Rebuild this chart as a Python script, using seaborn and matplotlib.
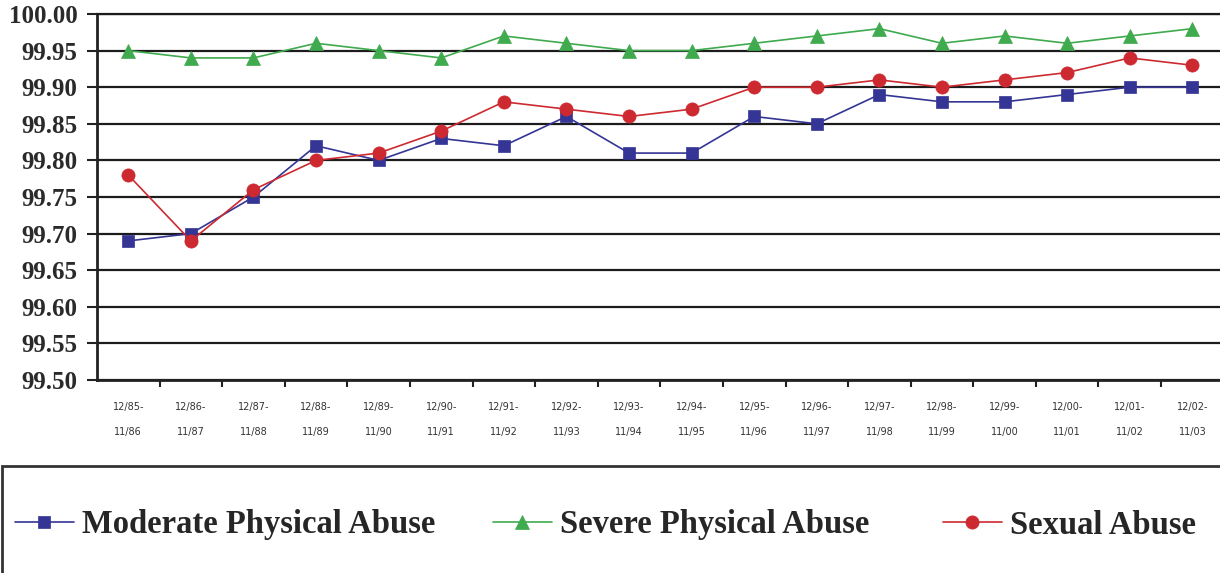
import numpy as np
import pandas as pd
import matplotlib
matplotlib.use("Agg")
import matplotlib.pyplot as plt
from matplotlib.patches import Rectangle
from matplotlib.ticker import FixedLocator
import seaborn as sns

# Reporting periods (December to November)
periods = ["12/85-\n11/86", "12/86-\n11/87", "12/87-\n11/88", "12/88-\n11/89",
           "12/89-\n11/90", "12/90-\n11/91", "12/91-\n11/92", "12/92-\n11/93",
           "12/93-\n11/94", "12/94-\n11/95", "12/95-\n11/96", "12/96-\n11/97",
           "12/97-\n11/98", "12/98-\n11/99", "12/99-\n11/00", "12/00-\n11/01",
           "12/01-\n11/02", "12/02-\n11/03"]

moderate_physical = [99.69, 99.70, 99.75, 99.82, 99.80, 99.83, 99.82, 99.86, 99.81,
                     99.81, 99.86, 99.85, 99.89, 99.88, 99.88, 99.89, 99.90, 99.90]
severe_physical = [99.95, 99.94, 99.94, 99.96, 99.95, 99.94, 99.97, 99.96, 99.95,
                   99.95, 99.96, 99.97, 99.98, 99.96, 99.97, 99.96, 99.97, 99.98]
sexual_abuse = [99.78, 99.69, 99.76, 99.80, 99.81, 99.84, 99.88, 99.87, 99.86,
                99.87, 99.90, 99.90, 99.91, 99.90, 99.91, 99.92, 99.94, 99.93]

y_ticks = [99.50, 99.55, 99.60, 99.65, 99.70, 99.75, 99.80, 99.85, 99.90, 99.95, 100.00]

series = [
    ("Moderate Physical Abuse", moderate_physical, "#343594", "s", 8.5),
    ("Severe Physical Abuse", severe_physical, "#3faa4e", "^", 10),
    ("Sexual Abuse", sexual_abuse, "#cc2a30", "o", 9.5),
]

sns.set_theme(style="white")
plt.rcParams["font.family"] = ["DejaVu Sans"]

W, H = 1220, 573
fig = plt.figure(figsize=(W / 100, H / 100), dpi=100)
ax = fig.add_axes([97 / W, 1 - 380 / H, 1.003 - 97 / W, (380 - 14) / H])

x = np.arange(len(periods))
for name, vals, color, marker, ms in series:
    df = pd.DataFrame({"period": x, "value": vals})
    sns.lineplot(data=df, x="period", y="value", ax=ax, color=color, label=name,
                 marker=marker, markersize=ms, markeredgecolor=color,
                 markeredgewidth=0.5, linewidth=1.2, zorder=3)

ax.set_xlim(-0.5, len(periods) - 0.5)
ax.set_ylim(99.5, 100.0)
ax.set_xlabel("")
ax.set_ylabel("")

# Horizontal rules at every 0.05
ax.yaxis.set_major_locator(FixedLocator(y_ticks))
ax.set_yticklabels([f"{v:.2f}" for v in y_ticks])
ax.grid(axis="y", color="#1c1c1c", linewidth=1.6)
ax.grid(axis="x", visible=False)

# Category labels at centres, tick marks at boundaries
ax.set_xticks(x)
ax.set_xticklabels(periods, fontsize=7, color="#333333", linespacing=2.9)
ax.xaxis.set_minor_locator(FixedLocator(np.arange(0.5, len(periods) - 0.5, 1.0)))
ax.tick_params(axis="x", which="major", length=0, pad=16)
ax.tick_params(axis="x", which="minor", length=5, width=1.5, color="#222222",
               direction="out", bottom=True)
ax.tick_params(axis="y", which="major", length=7, width=1.5, color="#222222",
               direction="out", left=True, pad=7)
for lbl in ax.get_yticklabels():
    lbl.set_family(["Liberation Serif"])
    lbl.set_fontweight("bold")
    lbl.set_fontsize(18)
    lbl.set_color("#2a2a2a")

ax.spines["right"].set_visible(False)
ax.spines["top"].set_color("#1c1c1c")
ax.spines["top"].set_linewidth(1.6)
for side in ["left", "bottom"]:
    ax.spines[side].set_color("#222222")
    ax.spines[side].set_linewidth(2.0)

handles, labels = ax.get_legend_handles_labels()
ax.get_legend().remove()

# Legend box along the bottom of the figure
fig.patches.append(Rectangle((2 / W, -0.1), 1.2, 0.1 + (H - 466) / H,
                             transform=fig.transFigure, fill=False,
                             edgecolor="#333333", linewidth=2.0))
legend_font = {"family": "Liberation Serif", "weight": "bold", "size": 23.5}
entry_left = [15, 493, 943]
for h, lab, xl in zip(handles, labels, entry_left):
    fig.legend([h], [lab], loc="center left",
               bbox_to_anchor=(xl / W, (H - 525) / H),
               frameon=False, borderpad=0, borderaxespad=0,
               handlelength=1.8, handletextpad=0.25, prop=legend_font,
               labelcolor="#262626")

fig.savefig("out.png", dpi=100)
